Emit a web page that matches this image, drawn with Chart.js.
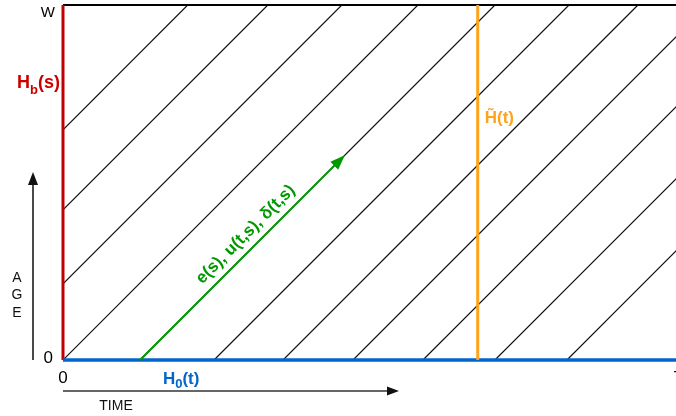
<!DOCTYPE html>
<html>
<head>
<meta charset="utf-8">
<script src="https://cdn.jsdelivr.net/npm/chart.js@4.4.1/dist/chart.umd.min.js"></script>
<style>
  html, body { margin: 0; padding: 0; overflow: hidden; background: #fff; }
  #wrap { position: relative; width: 679px; height: 416px; }
</style>
</head>
<body>
<div id="wrap"><canvas id="lexis"></canvas></div>
<script>
// Lexis diagram: calendar time along x, age along y
const timeMax = 121.5;   // T
const ageMax = 70;       // W
const xTickValues = [0, timeMax];
const xTickLabels = ['0', 'T'];
const yTickValues = [0, ageMax];
const yTickLabels = ['0', 'W'];
// birth time of every cohort lifeline (where each diagonal leaves age 0)
const cohortBirths = [-45.4, -29.6, -15, 0, 15.2, 29.8, 43.4, 57.2, 71, 85.2, 99.4];
// followed cohort (green arrow): birth time and age reached at the arrow tip
const arrowBirth = [15.2];
const arrowAge = [40];
// cross-section time of the orange line
const sectionTime = [81.8];

const FONT = '"Liberation Sans", Arial, sans-serif';
Chart.defaults.font.family = FONT;

// a lifeline runs at 45 degrees (age = time - birth), kept inside the diagram
function lifeline(b) {
  const start = b >= 0 ? { x: b, y: 0 } : { x: 0, y: -b };
  const end = b + ageMax <= timeMax ? { x: b + ageMax, y: ageMax } : { x: timeMax, y: timeMax - b };
  return [start, end];
}

const plain = { showLine: true, pointRadius: 0, pointHoverRadius: 0, fill: false };

const datasets = [
  Object.assign({ data: [{ x: arrowBirth[0], y: 0 }, { x: arrowBirth[0] + arrowAge[0], y: arrowAge[0] }],
    borderColor: '#009a00', borderWidth: 2, clip: false }, plain),
  Object.assign({ data: [{ x: sectionTime[0], y: 0 }, { x: sectionTime[0], y: ageMax }],
    borderColor: '#ffa31a', borderWidth: 3, clip: false }, plain),
  Object.assign({ data: [{ x: 0, y: 0 }, { x: timeMax, y: 0 }],
    borderColor: '#0066cc', borderWidth: 3.5, clip: false }, plain),
  Object.assign({ data: [{ x: 0, y: 0 }, { x: 0, y: ageMax }],
    borderColor: '#c00000', borderWidth: 3, clip: false }, plain),
  Object.assign({ data: [{ x: 0, y: ageMax }, { x: timeMax, y: ageMax }],
    borderColor: '#000000', borderWidth: 2, clip: false }, plain)
];
cohortBirths.forEach(b => {
  datasets.push(Object.assign({ data: lifeline(b), borderColor: '#111111', borderWidth: 1.2 }, plain));
});

// text with optional subscripts, drawn left to right from (x, y) on the baseline
function richText(ctx, parts, x, y, color, align) {
  ctx.save();
  ctx.fillStyle = color;
  ctx.textBaseline = 'alphabetic';
  ctx.textAlign = 'left';
  let total = 0;
  parts.forEach(p => { ctx.font = 'bold ' + p.size + 'px ' + FONT; total += ctx.measureText(p.t).width; });
  let cx = align === 'right' ? x - total : x;
  parts.forEach(p => {
    ctx.font = 'bold ' + p.size + 'px ' + FONT;
    ctx.fillText(p.t, cx, y + (p.dy || 0));
    cx += ctx.measureText(p.t).width;
  });
  ctx.restore();
}

function arrowHead(ctx, tx, ty, angle, len, half, color) {
  ctx.save();
  ctx.translate(tx, ty);
  ctx.rotate(angle);
  ctx.beginPath();
  ctx.moveTo(0, 0);
  ctx.lineTo(-len, -half);
  ctx.lineTo(-len, half);
  ctx.closePath();
  ctx.fillStyle = color;
  ctx.fill();
  ctx.restore();
}

const annotations = {
  id: 'annotations',
  afterDatasetsDraw(chart) {
    const ctx = chart.ctx;
    const xs = chart.scales.x, ys = chart.scales.y;
    const area = chart.chartArea;

    // age tick labels: the top one hangs below the upper edge
    ctx.save();
    ctx.fillStyle = '#000';
    ctx.textAlign = 'right';
    yTickValues.forEach((v, i) => {
      const top = i === yTickValues.length - 1;
      ctx.font = (top ? 15 : 17) + 'px ' + FONT;
      ctx.textBaseline = top ? 'top' : 'middle';
      ctx.fillText(yTickLabels[i], area.left - (top ? 8 : 10), ys.getPixelForValue(v) + (top ? 0 : -2));
    });
    ctx.restore();

    // green arrow head and the rotated label along the lifeline
    const p0x = xs.getPixelForValue(arrowBirth[0]), p0y = ys.getPixelForValue(0);
    const p1x = xs.getPixelForValue(arrowBirth[0] + arrowAge[0]), p1y = ys.getPixelForValue(arrowAge[0]);
    const ang = Math.atan2(p1y - p0y, p1x - p0x);
    arrowHead(ctx, p1x + 2, p1y - 2, ang, 15, 5.5, '#009a00');
    const len = Math.hypot(p1x - p0x, p1y - p0y);
    const ux = (p1x - p0x) / len, uy = (p1y - p0y) / len;
    const cx = p0x + (p1x - p0x) * 0.57 + uy * 14;
    const cy = p0y + (p1y - p0y) * 0.57 - ux * 14;
    ctx.save();
    ctx.translate(cx, cy);
    ctx.rotate(ang);
    ctx.font = 'bold 17px ' + FONT;
    ctx.fillStyle = '#009a00';
    ctx.textAlign = 'center';
    ctx.textBaseline = 'middle';
    ctx.fillText('e(s), u(t,s), δ(t,s)', 0, 0);
    ctx.restore();

    // series labels
    richText(ctx, [{ t: 'H', size: 18 }, { t: 'b', size: 13, dy: 6 }, { t: '(s)', size: 18 }],
      area.left - 3, area.top + 83, '#cc0000', 'right');
    richText(ctx, [{ t: 'H', size: 17 }, { t: '0', size: 13, dy: 4 }, { t: '(t)', size: 17 }],
      xs.getPixelForValue(19.7), area.bottom + 24, '#0066cc', 'left');
    const sx = xs.getPixelForValue(sectionTime[0]) + 7;
    richText(ctx, [{ t: 'H\u0303(t)', size: 17 }], sx, area.top + 118, '#ffa31a', 'left');

    // AGE axis arrow
    ctx.save();
    ctx.strokeStyle = '#4a4a4a';
    ctx.lineWidth = 2;
    ctx.beginPath();
    ctx.moveTo(33, area.bottom);
    ctx.lineTo(33, 182);
    ctx.stroke();
    arrowHead(ctx, 33, 172, -Math.PI / 2, 13, 5, '#111');
    ctx.font = '14px ' + FONT;
    ctx.fillStyle = '#111';
    ctx.textAlign = 'center';
    ctx.textBaseline = 'middle';
    ['A', 'G', 'E'].forEach((c, i) => ctx.fillText(c, 17, 278 + i * 17.5));

    // TIME axis arrow
    ctx.strokeStyle = '#333';
    ctx.lineWidth = 1.5;
    ctx.beginPath();
    ctx.moveTo(area.left, 391);
    ctx.lineTo(390, 391);
    ctx.stroke();
    arrowHead(ctx, 399, 391, 0, 12, 4.5, '#111');
    ctx.fillText('TIME', 116, 406);
    ctx.restore();
  }
};

new Chart(document.getElementById('lexis'), {
  type: 'scatter',
  data: { datasets },
  options: {
    responsive: true,
    maintainAspectRatio: false,
    animation: false,
    events: [],
    layout: { padding: { top: 5, right: 0, bottom: 0, left: 0 } },
    plugins: { legend: { display: false }, tooltip: { enabled: false } },
    scales: {
      x: {
        type: 'linear', min: 0, max: timeMax,
        grid: { display: false, drawTicks: false },
        border: { display: false },
        afterBuildTicks: s => { s.ticks = xTickValues.map(v => ({ value: v })); },
        afterFit: s => { s.height = 56; s.paddingLeft = 0; s.paddingRight = 0; },
        ticks: { padding: 8, color: '#000', font: { size: 17 }, maxRotation: 0,
          callback: (v, i) => xTickLabels[i] }
      },
      y: {
        type: 'linear', min: 0, max: ageMax,
        grid: { display: false, drawTicks: false },
        border: { display: false },
        afterBuildTicks: s => { s.ticks = yTickValues.map(v => ({ value: v })); },
        afterFit: s => { s.width = 63; s.paddingTop = 0; s.paddingBottom = 0; },
        ticks: { display: false }
      }
    }
  },
  plugins: [annotations]
});
</script>
</body>
</html>
